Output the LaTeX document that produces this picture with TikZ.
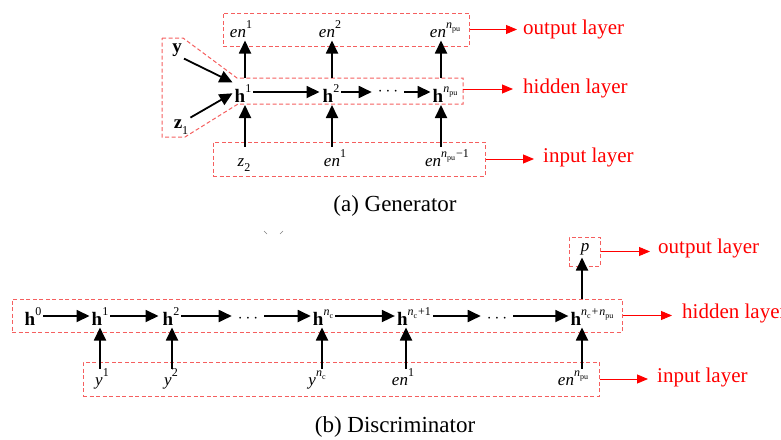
\documentclass[tikz,border=0pt]{standalone}
\usepackage{fontspec}
\setmainfont{Liberation Serif}
\usetikzlibrary{arrows.meta,calc}
\definecolor{boxred}{RGB}{245,95,95}
\newcommand\SP[1]{\raisebox{0.5em}{\fontsize{12}{12}\selectfont #1}}
\newcommand\SB[1]{\raisebox{-0.3em}{\fontsize{12}{12}\selectfont #1}}
\newcommand\NPU{\textit{n}\raisebox{-0.25em}{\fontsize{8}{8}\selectfont pu}}
\newcommand\NCC{\textit{n}\raisebox{-0.25em}{\fontsize{8}{8}\selectfont c}}
\begin{document}
\begin{tikzpicture}[x=1pt,y=-1pt,
  sym/.style={inner xsep=2pt, inner ysep=2pt, font=\fontsize{17}{17}\selectfont},
  hsym/.style={inner xsep=2pt, inner ysep=2pt, font=\fontsize{19}{19}\selectfont},
  arr/.style={line width=1.8pt, -{Triangle[length=13pt,width=12pt]}},
  rarr/.style={red, line width=0.9pt, -{Triangle[length=11pt,width=9pt]}},
  lab/.style={red, font=\fontsize{21}{21}\selectfont, anchor=west, inner sep=0pt},
  dbox/.style={draw=boxred, dash pattern=on 4pt off 2.5pt, line width=1pt},
  capt/.style={font=\fontsize{23}{23}\selectfont}]
\useasboundingbox (0,0) rectangle (781,439);

% ---------------- Generator ----------------
\node[dbox, minimum width=246pt, minimum height=33pt, inner sep=0pt] (gout) at (346,29.5) {};
\node[dbox, minimum width=272pt, minimum height=34pt, inner sep=0pt] (gin) at (349,159) {};
\draw[dbox] (162,38) -- (183,38) -- (237,78) -- (463,78) -- (463,104) -- (238,104) -- (185,137) -- (162,137) -- cycle;
\coordinate (ghid) at (463,89);
\coordinate (ghT) at (0,78);
\coordinate (ghB) at (0,104);
\coordinate (grow) at (0,92);

\node[sym, anchor=base] (en1o) at (241,37) {\textit{en}\SP{1}};
\node[sym, anchor=base] (en2o) at (330,37) {\textit{en}\SP{2}};
\node[sym, anchor=base] (enpo) at (445,37) {\textit{en}\SP{\NPU}};

\node[hsym, anchor=base] (h1) at (243,102) {\textbf{h}\SP{1}};
\node[hsym, anchor=base] (h2) at (331,102) {\textbf{h}\SP{2}};
\node[sym] (gdots) at (388,92) {$\cdots$};
\node[hsym, anchor=base] (hp) at (445,102) {\textbf{h}\SP{\NPU}};

\node[hsym] (yv) at (177,50) {\textbf{y}};
\node[hsym] (z1) at (181,127) {\textbf{z}\SB{1}};

\node[sym, anchor=base] (z2) at (244,166) {\textit{z}\SB{2}};
\node[sym, anchor=base] (en1i) at (335,166) {\textit{en}\SP{1}};
\node[sym, anchor=base] (enpm) at (447,166) {\textit{en}\SP{\NPU\kern1pt−1}};

\coordinate (gc1) at (245,0);
\coordinate (gc2) at (332,0);
\coordinate (gc3) at (441,0);

\foreach \c in {gc1,gc2,gc3}{
  \draw[arr] ($(\c|-gin.north)+(0,5)$) -- ($(\c|-ghB)+(0,1)$);
  \draw[arr] (\c|-ghT) -- ($(\c|-gout.south)+(0,-6)$);
}
\draw[arr] (h1.east|-grow) -- ($(h2.west|-grow)+(-1,0)$);
\draw[arr] (h2.east|-grow) -- ($(gdots.west|-grow)+(-4,0)$);
\draw[arr] ($(gdots.east|-grow)+(4,0)$) -- ($(hp.west|-grow)+(0,0)$);
\draw[arr] (yv.south east) -- (h1.north west);
\draw[arr] (z1.north east) -- (h1.west);

\node[lab] (lgo) at (523,29) {output layer};
\node[lab] (lgh) at (523,88) {hidden layer};
\node[lab] (lgi) at (543,157) {input layer};
\draw[rarr] (gout.east) -- ($(gout.east-|lgo.west)+(-6,0)$);
\draw[rarr] (ghid) -- ($(ghid-|lgh.west)+(-10,0)$);
\draw[rarr] (gin.east) -- ($(gin.east-|lgi.west)+(-9,0)$);

\node[capt] (capa) at (395,206) {(a) Generator};

\draw[gray, line width=0.6pt] (264,231) -- (267,234);
\draw[gray, line width=0.6pt] (283,231) -- (280,234);

% ---------------- Discriminator ----------------
\node[dbox, minimum width=610pt, minimum height=33pt, inner sep=0pt] (dhid) at (317,315.5) {};
\node[dbox, minimum width=516pt, minimum height=34pt, inner sep=0pt] (din) at (341,379) {};
\node[dbox, minimum width=31pt, minimum height=29pt, inner sep=0pt] (dout) at (584.5,251.5) {};
\coordinate (drow) at (0,316);

\node[sym] (p) at (585,249) {\textit{p}};

\node[hsym, anchor=base] (h0) at (33,325) {\textbf{h}\SP{0}};
\node[hsym, anchor=base] (dh1) at (100,325) {\textbf{h}\SP{1}};
\node[hsym, anchor=base] (dh2) at (171,325) {\textbf{h}\SP{2}};
\node[sym] (dd1) at (248,319) {$\cdots$};
\node[hsym, anchor=base] (dhc) at (323,325) {\textbf{h}\SP{\NCC}};
\node[hsym, anchor=base] (dhc1) at (414,325) {\textbf{h}\SP{\NCC\kern1pt+1}};
\node[sym] (dd2) at (497,319) {$\cdots$};
\node[hsym, anchor=base] (dhcp) at (592,325) {\textbf{h}\SP{\NCC\kern1pt+\kern1pt\NPU}};

\node[sym, anchor=base] (y1) at (102,385) {\textit{y}\SP{1}};
\node[sym, anchor=base] (y2) at (171,385) {\textit{y}\SP{2}};
\node[sym, anchor=base] (yc) at (317,385) {\textit{y}\SP{\NCC}};
\node[sym, anchor=base] (den1) at (403,385) {\textit{en}\SP{1}};
\node[sym, anchor=base] (denp) at (573,385) {\textit{en}\SP{\NPU}};

\coordinate (dc1) at (100,0);
\coordinate (dc2) at (172,0);
\coordinate (dc3) at (322,0);
\coordinate (dc4) at (406,0);
\coordinate (dc5) at (582,0);
\foreach \c in {dc1,dc2,dc3,dc4,dc5}{
  \draw[arr] ($(\c|-din.north)+(0,7)$) -- ($(\c|-dhid.south)+(0,-5)$);
}
\draw[arr] (dc5|-dhid.north) -- ($(dc5|-dout.south)+(0,-9)$);

\draw[arr] (h0.east|-drow) -- (dh1.west|-drow);
\draw[arr] (dh1.east|-drow) -- ($(dh2.west|-drow)+(-2,0)$);
\draw[arr] (dh2.east|-drow) -- ($(dd1.west|-drow)+(-4,0)$);
\draw[arr] ($(dd1.east|-drow)+(4,0)$) -- (dhc.west|-drow);
\draw[arr] (dhc.east|-drow) -- (dhc1.west|-drow);
\draw[arr] (dhc1.east|-drow) -- ($(dd2.west|-drow)+(-4,0)$);
\draw[arr] ($(dd2.east|-drow)+(4,0)$) -- (dhcp.west|-drow);

\node[lab] (ldo) at (658,248) {output layer};
\node[lab] (ldh) at (682,313) {hidden layer};
\node[lab] (ldi) at (657,377) {input layer};
\draw[rarr] (dout.east) -- ($(dout.east-|ldo.west)+(-8,0)$);
\draw[rarr] (dhid.east) -- ($(dhid.east-|ldh.west)+(-10,0)$);
\draw[rarr] (din.east) -- ($(din.east-|ldi.west)+(-9,0)$);

\node[capt] (capb) at (395,427) {(b) Discriminator};
\end{tikzpicture}
\end{document}
